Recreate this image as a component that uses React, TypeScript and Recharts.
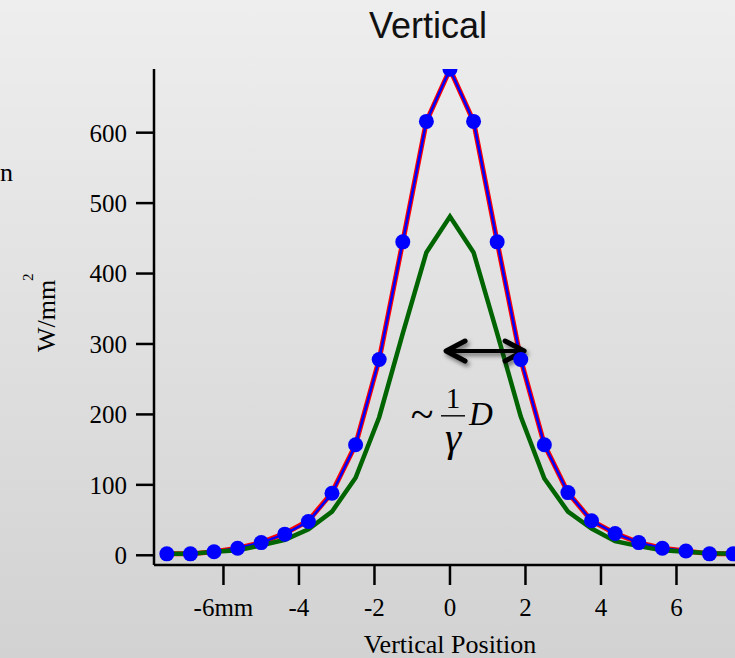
import React from 'react';
import { LineChart, Line, XAxis, YAxis, ReferenceLine, ReferenceDot, Customized } from 'recharts';

// Vertical position of each sample (mm)
const positions = [-7.5, -6.875, -6.25, -5.625, -5, -4.375, -3.75, -3.125, -2.5, -1.875, -1.25, -0.625, 0, 0.625, 1.25, 1.875, 2.5, 3.125, 3.75, 4.375, 5, 5.625, 6.25, 6.875, 7.5];
// Blue dotted series (W/mm^2)
const measured = [2, 2, 5, 10, 18, 30, 48, 88, 157, 278, 445, 616, 690, 616, 445, 278, 157, 89, 49, 31, 18, 10, 6, 2, 2];
// Red underlying line
const model = [2, 2, 5, 10, 18, 31, 49, 89, 157, 278, 445, 616, 690, 616, 445, 278, 157, 89, 49, 31, 18, 10, 6, 2, 2];
// Green line
const reduced = [2, 2, 5, 7, 14, 22, 37, 62, 110, 196, 315, 430, 481, 430, 315, 197, 109, 62, 38, 20, 13, 7, 5, 3, 2];

const xTicks = [-6, -4, -2, 0, 2, 4, 6];
const yTicks = [0, 100, 200, 300, 400, 500, 600];

const arrowSpan = [-0.13, 1.99];
const arrowLevel = 290;
const formulaAnchor = { x: 0.08, y: 198 };

const data = positions.map((x, i) => ({ x, measured: measured[i], model: model[i], reduced: reduced[i] }));

const serif = '"Liberation Serif", "Times New Roman", serif';
const sans = '"Liberation Sans", Arial, Helvetica, sans-serif';

const Arrow = (props: any) => {
  const { x1, x2, y1 } = props;
  const y = y1;
  const h = 20;
  const w = 10;
  return (
    <g filter="url(#arrowShadow)">
      <defs>
        <filter id="arrowShadow" x="-20%" y="-100%" width="150%" height="300%">
          <feDropShadow dx="2" dy="3" stdDeviation="2.2" floodColor="#000" floodOpacity="0.5" />
        </filter>
      </defs>
      <line x1={x1 + 3} y1={y} x2={x2 - 3} y2={y} stroke="#000" strokeWidth={4} />
      <polyline points={`${x1 + h},${y - w} ${x1 + 1},${y} ${x1 + h},${y + w}`} fill="none" stroke="#000" strokeWidth={5} strokeLinecap="round" strokeLinejoin="round" />
      <polyline points={`${x2 - h},${y - w} ${x2 - 1},${y} ${x2 - h},${y + w}`} fill="none" stroke="#000" strokeWidth={5} strokeLinecap="round" strokeLinejoin="round" />
    </g>
  );
};

const Formula = (props: any) => {
  const { cx, cy } = props;
  return (
    <g fontFamily={serif} fill="#000">
      <text x={cx - 31} y={cy + 12} fontSize={42} textAnchor="middle">~</text>
      <text x={cx} y={cy - 8} fontSize={29} textAnchor="middle">1</text>
      <line x1={cx - 12} y1={cy} x2={cx + 12} y2={cy} stroke="#000" strokeWidth={1.4} />
      <text x={cx} y={cy + 35} fontSize={41} fontStyle="italic" textAnchor="middle">γ</text>
      <text x={cx + 16} y={cy + 9} fontSize={33} fontStyle="italic" textAnchor="start">D</text>
    </g>
  );
};

const Annotations = () => (
  <g>
    <text x={428} y={38} fontFamily={sans} fontSize={36} fill="#111" textAnchor="middle">Vertical</text>
    <text x={0} y={181} fontFamily={serif} fontSize={26} fill="#000">n</text>
    <g transform="translate(55, 316) rotate(-90)">
      <text x={0} y={0} fontFamily={serif} fontSize={26} fill="#000" textAnchor="middle">W/mm</text>
      <text x={35} y={-22} fontFamily={serif} fontSize={15} fill="#000" textAnchor="start">2</text>
    </g>
    <text x={450} y={653} fontFamily={serif} fontSize={26} fill="#000" textAnchor="middle">Vertical Position</text>
  </g>
);

export default function App() {
  return (
    <div
      style={{
        position: 'absolute',
        left: 0,
        top: 0,
        width: 735,
        height: 658,
        overflow: 'hidden',
        background: 'linear-gradient(to bottom, #eeeeee, #d2d2d2)',
      }}
    >
      <LineChart width={735} height={658} data={data} margin={{ top: 69, right: 0, bottom: 0, left: 0 }}>
        <XAxis
          type="number"
          dataKey="x"
          domain={[-7.84, 7.55]}
          allowDataOverflow
          ticks={xTicks}
          interval={0}
          tickFormatter={(v: number) => (v === -6 ? '-6mm' : String(v))}
          height={93}
          tickSize={20}
          tickMargin={13}
          axisLine={{ stroke: '#000', strokeWidth: 2.5 }}
          tickLine={{ stroke: '#000', strokeWidth: 2.5 }}
          tick={{ fontFamily: serif, fontSize: 25, fill: '#000' }}
        />
        <YAxis
          type="number"
          domain={[-13.8, 690.4]}
          allowDataOverflow
          ticks={yTicks}
          interval={0}
          width={154}
          tickSize={18}
          tickMargin={9}
          axisLine={{ stroke: '#000', strokeWidth: 2.5 }}
          tickLine={{ stroke: '#000', strokeWidth: 2.5 }}
          tick={{ fontFamily: serif, fontSize: 25, fill: '#000' }}
        />
        <Line dataKey="model" stroke="#ff0000" strokeWidth={5} dot={false} activeDot={false} isAnimationActive={false} />
        <Line
          dataKey="measured"
          stroke="#0000ff"
          strokeWidth={2.5}
          dot={{ r: 7.5, fill: '#0000ff', stroke: 'none', strokeWidth: 0 }}
          activeDot={false}
          isAnimationActive={false}
        />
        <Line dataKey="reduced" stroke="#006400" strokeWidth={4.5} strokeLinejoin="miter" dot={false} activeDot={false} isAnimationActive={false} />
        <ReferenceLine
          segment={[
            { x: arrowSpan[0], y: arrowLevel },
            { x: arrowSpan[1], y: arrowLevel },
          ]}
          shape={Arrow}
          ifOverflow="visible"
        />
        <ReferenceDot x={formulaAnchor.x} y={formulaAnchor.y} r={1} shape={Formula} ifOverflow="visible" />
        <Customized component={Annotations} />
      </LineChart>
    </div>
  );
}
